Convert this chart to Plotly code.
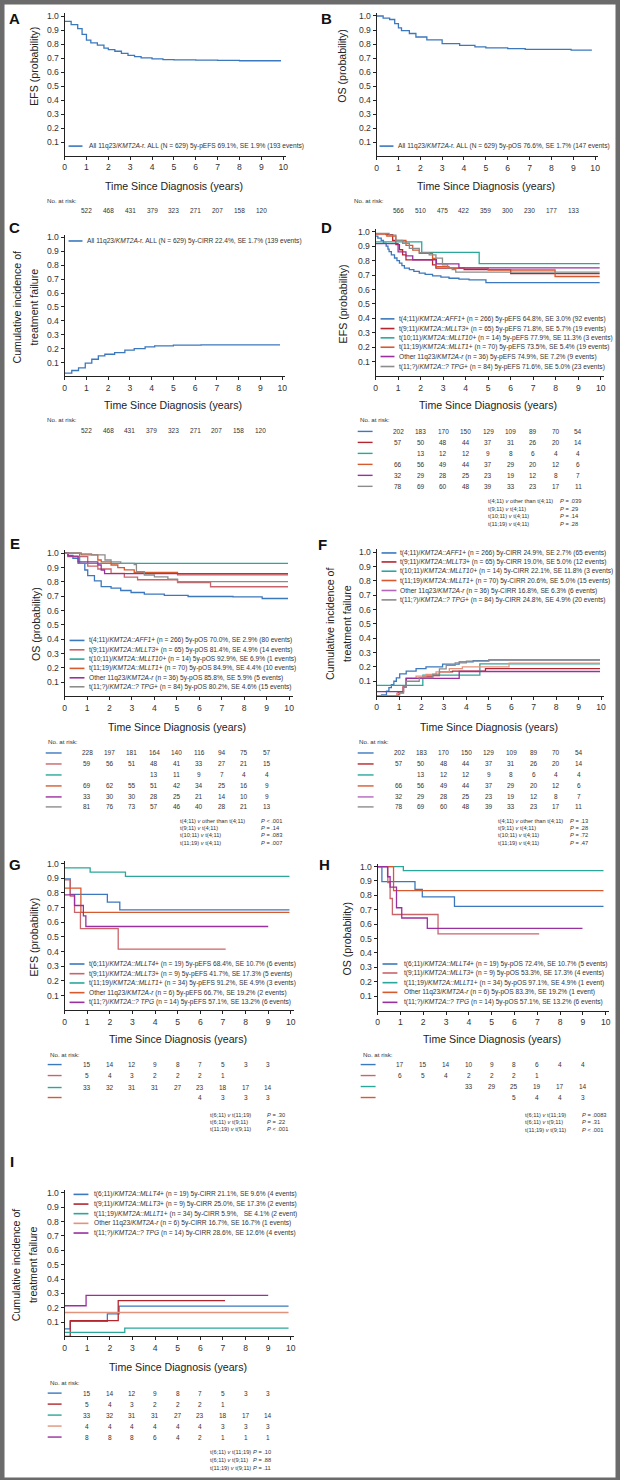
import plotly.graph_objects as go

W, H = 620, 1480
FONT = "Liberation Sans, Arial, sans-serif"

BLUE = "#3b78bd"
RED = "#b3262e"
ROSE = "#c9646a"
TEAL = "#2aa79b"
ORANGE = "#d65a2e"
SALMON = "#e3937c"
PURPLE = "#9a2f9f"
LILAC = "#b267b8"
GRAY = "#8c8c8c"

# --- data ---
years = [1, 2, 3, 4, 5, 6, 7, 8, 9]

# A: EFS, all patients
a_t = [0, 0.3, 0.6, 0.8, 1.0, 1.2, 1.5, 1.8, 2.0, 2.3, 2.6, 2.9, 3.2, 3.5, 4.0, 4.5, 5.0, 6.0, 7.0, 8.0, 9.9]
a_efs = [0.964, 0.94, 0.912, 0.87, 0.829, 0.81, 0.793, 0.772, 0.762, 0.75, 0.735, 0.72, 0.712, 0.702, 0.695,
         0.69, 0.688, 0.686, 0.684, 0.682, 0.682]
a_risk = [522, 468, 431, 379, 323, 271, 207, 158, 120]

# B: OS, all patients
b_t = [0, 0.3, 0.6, 0.83, 1.0, 1.14, 1.5, 1.8, 2.3, 3.0, 3.8, 4.5, 5.0, 6.0, 6.8, 8.9, 9.85]
b_os = [1.0, 0.985, 0.975, 0.945, 0.915, 0.895, 0.875, 0.85, 0.83, 0.803, 0.79, 0.78, 0.772, 0.767, 0.762,
        0.757, 0.757]
b_risk = [566, 510, 475, 422, 359, 300, 230, 177, 133]

# C: cumulative incidence, all patients
c_t = [0, 0.33, 0.64, 0.95, 1.25, 1.55, 1.85, 2.3, 2.77, 3.2, 3.7, 4.14, 5.0, 6.27, 9.9]
c_cir = [0.024, 0.043, 0.062, 0.096, 0.124, 0.148, 0.16, 0.172, 0.19, 0.2, 0.213, 0.22, 0.225, 0.227, 0.227]
c_risk = [522, 468, 431, 379, 323, 271, 207, 158, 120]

# D: EFS by partner gene
d_411_t = [0, 0.1, 0.25, 0.35, 0.47, 0.55, 0.6, 0.7, 0.84, 0.95, 1.06, 1.17, 1.28, 1.5, 1.7, 1.94, 2.2, 2.53,
           2.9, 3.26, 3.7, 4.15, 4.9, 9.95]
d_411 = [0.97, 0.955, 0.94, 0.92, 0.9, 0.88, 0.862, 0.84, 0.818, 0.8, 0.782, 0.765, 0.748, 0.737, 0.725, 0.713,
         0.705, 0.695, 0.686, 0.678, 0.672, 0.667, 0.648, 0.648]
d_911_t = [0, 0.47, 0.76, 0.9, 1.06, 1.2, 1.35, 2.53, 2.68, 3.93, 6.0, 9.95]
d_911 = [0.985, 0.98, 0.94, 0.91, 0.875, 0.84, 0.805, 0.77, 0.748, 0.737, 0.71, 0.71]
d_1011_t = [0, 2.05, 4.6, 9.95]
d_1011 = [0.929, 0.857, 0.779, 0.779]
d_1119_t = [0, 0.5, 0.9, 1.35, 1.65, 1.94, 2.53, 2.68, 3.26, 5.0, 7.97, 9.95]
d_1119 = [0.985, 0.97, 0.94, 0.906, 0.872, 0.85, 0.815, 0.758, 0.748, 0.735, 0.69, 0.69]
d_oth_t = [0, 1.0, 1.35, 1.65, 2.7, 3.7, 9.95]
d_oth = [0.917, 0.861, 0.833, 0.806, 0.778, 0.75, 0.75]
d_tpg_t = [0, 0.6, 0.9, 1.2, 1.5, 1.94, 2.38, 2.68, 2.97, 3.2, 3.4, 3.56, 9.95]
d_tpg = [0.988, 0.976, 0.94, 0.92, 0.885, 0.855, 0.84, 0.817, 0.77, 0.75, 0.737, 0.72, 0.72]

# E: OS by partner gene
e_411_t = [0, 0.15, 0.37, 0.6, 0.9, 1.03, 1.33, 1.63, 2.07, 2.5, 2.96, 3.55, 4.44, 5.5, 7.5, 8.8, 9.95]
e_411 = [1.0, 0.985, 0.965, 0.93, 0.883, 0.844, 0.807, 0.767, 0.756, 0.74, 0.726, 0.715, 0.706, 0.698, 0.696,
         0.684, 0.684]
e_911_t = [0, 0.15, 1.03, 1.48, 2.07, 2.66, 3.25, 5.03, 6.5, 9.95]
e_911 = [1.0, 0.977, 0.91, 0.89, 0.86, 0.833, 0.815, 0.795, 0.766, 0.766]
e_1011_t = [0, 0.67, 9.95]
e_1011 = [1.0, 0.929, 0.929]
e_1119_t = [0, 0.74, 1.48, 1.63, 2.07, 2.37, 2.66, 3.1, 5.03, 9.95]
e_1119 = [1.0, 0.988, 0.953, 0.94, 0.918, 0.9, 0.884, 0.867, 0.849, 0.849]
e_oth_t = [0, 0.15, 0.6, 1.48, 1.63, 1.78, 9.95]
e_oth = [1.0, 0.98, 0.94, 0.918, 0.883, 0.858, 0.858]
e_tpg_t = [0, 0.74, 1.2, 1.8, 2.07, 2.5, 3.1, 3.2, 3.55, 4.0, 4.6, 5.03, 9.95]
e_tpg = [1.0, 0.995, 0.988, 0.953, 0.94, 0.93, 0.92, 0.871, 0.848, 0.835, 0.82, 0.802, 0.802]

# F: cumulative incidence by partner gene
f_411_t = [0, 0.22, 0.44, 0.55, 0.66, 0.77, 0.88, 1.03, 1.32, 1.76, 2.2, 2.94, 3.68, 4.3, 5.0, 9.95]
f_411 = [0.0, 0.005, 0.03, 0.055, 0.077, 0.1, 0.123, 0.151, 0.17, 0.188, 0.2, 0.22, 0.235, 0.244, 0.249, 0.249]
f_911_t = [0, 0.96, 1.18, 1.32, 2.06, 2.5, 2.8, 3.38, 4.85, 9.95]
f_911 = [0.0, 0.025, 0.06, 0.12, 0.13, 0.14, 0.165, 0.17, 0.188, 0.188]
f_1011_t = [0, 2.06, 4.6, 9.95]
f_1011 = [0.071, 0.143, 0.221, 0.221]
f_1119_t = [0, 0.9, 1.2, 1.32, 1.76, 2.2, 2.65, 3.24, 3.82, 5.9, 9.95]
f_1119 = [0.0, 0.015, 0.06, 0.12, 0.135, 0.148, 0.165, 0.188, 0.2, 0.226, 0.226]
f_oth_t = [0, 1.2, 1.32, 3.68, 9.95]
f_oth = [0.028, 0.06, 0.12, 0.168, 0.168]
f_tpg_t = [0, 1.03, 1.2, 1.32, 1.9, 2.5, 2.8, 3.1, 3.5, 4.0, 5.0, 9.95]
f_tpg = [0.0, 0.02, 0.06, 0.1, 0.125, 0.15, 0.186, 0.21, 0.228, 0.24, 0.248, 0.248]

# number at risk, D and F share the EFS risk table
risk6_411 = [202, 183, 170, 150, 129, 109, 89, 70, 54]
risk6_911 = [57, 50, 48, 44, 37, 31, 26, 20, 14]
risk6_1011 = [None, 13, 12, 12, 9, 8, 6, 4, 4]
risk6_1119 = [66, 56, 49, 44, 37, 29, 20, 12, 6]
risk6_oth = [32, 29, 28, 25, 23, 19, 12, 8, 7]
risk6_tpg = [78, 69, 60, 48, 39, 33, 23, 17, 11]

os6_411 = [228, 197, 181, 164, 140, 116, 94, 75, 57]
os6_911 = [59, 56, 51, 48, 41, 33, 27, 21, 15]
os6_1011 = [None, None, None, 13, 11, 9, 7, 4, 4]
os6_1119 = [69, 62, 55, 51, 42, 34, 25, 16, 9]
os6_oth = [33, 30, 30, 28, 25, 21, 14, 10, 9]
os6_tpg = [81, 76, 73, 57, 46, 40, 28, 21, 13]

# G: EFS, infants
g_611_t = [0, 0.25, 1.89, 2.44, 9.94]
g_611 = [0.895, 0.79, 0.737, 0.684, 0.684]
g_911_t = [0, 0.25, 0.44, 0.7, 2.37, 7.12]
g_911 = [0.889, 0.778, 0.667, 0.556, 0.417, 0.417]
g_1119_t = [0, 1.13, 2.69, 9.94]
g_1119 = [0.971, 0.941, 0.912, 0.912]
g_oth_t = [0, 0.72, 9.94]
g_oth = [0.833, 0.667, 0.667]
g_tpg_t = [0, 0.44, 0.83, 0.94, 9.0]
g_tpg = [0.786, 0.714, 0.643, 0.571, 0.571]
g_risk_611 = [15, 14, 12, 9, 8, 7, 5, 3, 3]
g_risk_911 = [5, 4, 3, 2, 2, 2, 1, None, None]
g_risk_1119 = [33, 32, 31, 31, 27, 23, 18, 17, 14]
g_risk_oth = [None, None, None, None, None, 4, 3, 3, 3]

# H: OS, infants
h_611_t = [0, 0.19, 1.64, 1.96, 3.37, 9.9]
h_611 = [1.0, 0.895, 0.842, 0.789, 0.724, 0.724]
h_911_t = [0, 0.45, 0.55, 0.65, 2.65, 7.08]
h_911 = [1.0, 0.889, 0.778, 0.667, 0.533, 0.533]
h_1119_t = [0, 1.13, 9.9]
h_1119 = [1.0, 0.971, 0.971]
h_oth_t = [0, 0.7, 9.9]
h_oth = [1.0, 0.833, 0.833]
h_tpg_t = [0, 0.44, 0.55, 0.83, 1.06, 2.18, 8.98]
h_tpg = [1.0, 0.929, 0.857, 0.714, 0.643, 0.571, 0.571]
h_risk_611 = [17, 15, 14, 10, 9, 8, 6, 4, 4]
h_risk_911 = [6, 5, 4, 2, 2, 2, 1, None, None]
h_risk_1119 = [None, None, None, 33, 29, 25, 19, 17, 14]
h_risk_oth = [None, None, None, None, None, 5, 4, 4, 3]

# I: cumulative incidence, infants
i_611_t = [0, 0.25, 1.89, 2.41, 9.9]
i_611 = [0.053, 0.105, 0.158, 0.211, 0.211]
i_911_t = [0, 0.25, 2.37, 7.09]
i_911 = [0.0, 0.111, 0.25, 0.25]
i_1119_t = [0, 2.66, 9.9]
i_1119 = [0.029, 0.059, 0.059]
i_oth_t = [0, 9.9]
i_oth = [0.167, 0.167]
i_tpg_t = [0, 0.95, 9.0]
i_tpg = [0.214, 0.286, 0.286]
i_risk_611 = [15, 14, 12, 9, 8, 7, 5, 3, 3]
i_risk_911 = [5, 4, 3, 2, 2, 2, 1, None, None]
i_risk_1119 = [33, 32, 31, 31, 27, 23, 18, 17, 14]
i_risk_oth = [4, 4, 4, 4, 4, 4, 3, 3, 3]
i_risk_tpg = [8, 8, 8, 6, 4, 2, 1, 1, 1]

ALL = "All 11q23/<i>KMT2A</i>-r. ALL (N = 629) "
LAB6 = ["t(4;11)/<i>KMT2A::AFF1</i>+ (n = 266) ", "t(9;11)/<i>KMT2A::MLLT3</i>+ (n = 65) ",
        "t(10;11)/<i>KMT2A::MLLT10</i>+ (n = 14) ", "t(11;19)/<i>KMT2A::MLLT1</i>+ (n = 70) ",
        "Other 11q23/<i>KMT2A-r</i> (n = 36) ", "t(11;?)/<i>KMT2A::? TPG</i>+ (n = 84) "]
LAB5 = ["t(6;11)/<i>KMT2A::MLLT4</i>+ (n = 19) ", "t(9;11)/<i>KMT2A::MLLT3</i>+ (n = 9) ",
        "t(11;19)/<i>KMT2A::MLLT1</i>+ (n = 34) ", "Other 11q23/<i>KMT2A-r</i> (n = 6) ",
        "t(11;?)/<i>KMT2A::? TPG</i> (n = 14) "]
d_stats = ["5y-pEFS 64.8%, SE 3.0% (92 events)", "5y-pEFS 71.8%, SE 5.7% (19 events)",
           "5y-pEFS 77.9%, SE 11.3% (3 events)", "5y-pEFS 73.5%, SE 5.4% (19 events)",
           "5y-pEFS 74.9%, SE 7.2% (9 events)", "5y-pEFS 71.6%, SE 5.0% (23 events)"]
e_stats = ["5y-pOS 70.0%, SE 2.9% (80 events)", "5y-pOS 81.4%, SE 4.9% (14 events)",
           "5y-pOS 92.9%, SE 6.9% (1 events)", "5y-pOS 84.9%, SE 4.4% (10 events)",
           "5y-pOS 85.8%, SE 5.9% (5 events)", "5y-pOS 80.2%, SE 4.6% (15 events)"]
f_stats = ["5y-CIRR 24.9%, SE 2.7% (65 events)", "5y-CIRR 19.0%, SE 5.0% (12 events)",
           "5y-CIRR 22.1%, SE 11.8% (3 events)", "5y-CIRR 20.6%, SE 5.0% (15 events)",
           "5y-CIRR 16.8%, SE 6.3% (6 events)", "5y-CIRR 24.8%, SE 4.9% (20 events)"]
g_stats = ["5y-pEFS 68.4%, SE 10.7% (6 events)", "5y-pEFS 41.7%, SE 17.3% (5 events)",
           "5y-pEFS 91.2%, SE 4.9% (3 events)", "5y-pEFS 66.7%, SE 19.2% (2 events)",
           "5y-pEFS 57.1%, SE 13.2% (6 events)"]
h_stats = ["5y-pOS 72.4%, SE 10.7% (5 events)", "5y-pOS 53.3%, SE 17.3% (4 events)",
           "5y-pOS 97.1%, SE 4.9% (1 event)", "5y-pOS 83.3%, SE 19.2% (1 event)",
           "5y-pOS 57.1%, SE 13.2% (6 events)"]
i_stats = ["5y-CIRR 21.1%, SE 9.6% (4 events)", "5y-CIRR 25.0%, SE 17.3% (2 events)",
           "5y-CIRR 5.9%,   SE 4.1% (2 event)", "5y-CIRR 16.7%, SE 16.7% (1 events)",
           "5y-CIRR 28.6%, SE 12.6% (4 events)"]

CMP6 = ["t(4;11) <i>v</i> other than t(4;11)", "t(9;11) <i>v</i> t(4;11)", "t(10;11) <i>v</i> t(4;11)",
        "t(11;19) <i>v</i> t(4;11)"]
CMP3 = ["t(6;11) <i>v</i> t(11;19)", "t(6;11) <i>v</i> t(9;11)", "t(11;19) <i>v</i> t(9;11)"]
d_p = ["= .039", "= .29", "= .14", "= .28"]
e_p = ["< .001", "= .14", "= .083", "= .007"]
f_p = ["= .13", "= .28", "= .72", "= .47"]
g_p = ["= .30", "= .22", "< .001"]
h_p = ["= .0083", "= .31", "< .001"]
i_p = ["= .10", "= .88", "= .11"]

fig = go.Figure()
ann = []
shapes = []
AX = dict(showline=True, linecolor="#222", linewidth=1, ticks="outside", ticklen=3, tickwidth=1,
          tickcolor="#222", showgrid=False, zeroline=False, tickfont=dict(size=8.6, color="#333"))
TITLE = 10.6    # axis titles
LEG = 6.6       # legend rows
NUM = 6.5       # numbers at risk
PV = 5.7        # p-value lines


def txt(x, y, s, size=LEG, xa="left", color="#333", angle=0, xref="paper"):
    ann.append(dict(x=x if xref != "paper" else x / W, y=1 - y / H, xref=xref, yref="paper", text=s,
                    showarrow=False, xanchor=xa, yanchor="middle", textangle=angle,
                    font=dict(size=size, color=color, family=FONT)))


def seg(x0, x1, y, color, width=1.5):
    shapes.append(dict(type="line", xref="paper", yref="paper", x0=x0 / W, x1=x1 / W, y0=1 - y / H,
                       y1=1 - y / H, line=dict(color=color, width=width)))


def panel(n, box, curves, letter, lpos, ytitle, ypos, xt_y):
    key = "" if n == 1 else str(n)
    left, right, top, bottom = box
    fig.update_layout({
        "xaxis" + key: dict(domain=[left / W, (left + (right - left) * 1.015) / W], range=[0, 10.15],
                            anchor="y" + key, tickvals=list(range(11)), **AX),
        "yaxis" + key: dict(domain=[1 - bottom / H, 1 - (bottom - (bottom - top) * 1.02) / H], range=[0, 1.02],
                            anchor="x" + key, tickvals=[0.1 * k for k in range(1, 11)], tickformat=".1f", **AX)})
    for t, y, c in curves:
        fig.add_trace(go.Scatter(x=t, y=y, mode="lines", line=dict(color=c, width=1.3, shape="hv"),
                                 xaxis="x" + key, yaxis="y" + key, showlegend=False, hoverinfo="skip"))
    txt(lpos[0], lpos[1], "<b>" + letter + "</b>", size=15, xa="center", color="#111")
    # y title, one annotation per line so that the line gap can follow the original
    for line_txt, xx in zip(ytitle, ypos[0]):
        txt(xx, ypos[1], line_txt, size=TITLE, xa="center", color="#222", angle=-90)
    txt((left + right) / 2, xt_y, "Time Since Diagnosis (years)", size=TITLE, xa="center", color="#222")
    return "x" + key


def legend(rows_y, x0, x1, tx, labels, colors):
    for y, s, c in zip(rows_y, labels, colors):
        seg(x0, x1, y, c, 1.6)
        txt(tx, y, s, size=LEG)


def risk(xref, head, rows_y, x0, x1, tables, colors, line=True):
    txt(head[0], head[1], "No. at risk:", size=6.2)
    for y, vals, c in zip(rows_y, tables, colors):
        if line:
            seg(x0, x1, y, c, 1.4)
        for t, v in zip(years, vals):
            if v is not None:
                txt(t, y, str(v), size=NUM, xa="center", xref=xref)


def pvals(rows_y, xl, xp, left, right):
    for y, a, b in zip(rows_y, left, right):
        txt(xl, y, a, size=PV)
        txt(xp, y, "<i>P</i> " + b, size=PV)


EFS = ["EFS (probability)"]
OS = ["OS (probability)"]
CIR = ["Cumulative incidence of", "treatment failure"]

# A
xr = panel(1, (63, 283, 14.3, 154.3), [(a_t, a_efs, BLUE)], "A", (13, 17), EFS, ([32], 64), 184)
legend([144.3], 67, 81, 86, [ALL + "5y-pEFS 69.1%, SE 1.9% (193 events)"], [BLUE])
risk(xr, (43, 199), [209], 0, 0, [a_risk], [BLUE], line=False)

# B
xr = panel(2, (377, 597, 14, 154.5), [(b_t, b_os, BLUE)], "B", (327, 17), OS, ([342], 64), 184)
legend([144.3], 380, 394, 397, [ALL + "5y-pOS 76.6%, SE 1.7% (147 events)"], [BLUE])
risk(xr, (352, 199), [209], 0, 0, [b_risk], [BLUE], line=False)

# C
xr = panel(3, (63, 282, 235.7, 375), [(c_t, c_cir, BLUE)], "C", (13, 226), CIR, ([15, 32], 305), 404)
legend([239.3], 67, 81, 84, [ALL + "5y-CIRR 22.4%, SE 1.7% (139 events)"], [BLUE])
risk(xr, (43, 418), [429], 0, 0, [c_risk], [BLUE], line=False)

# D
col6 = [BLUE, RED, TEAL, ORANGE, PURPLE, GRAY]
xr = panel(4, (376, 602.7, 230, 374.8),
           [(d_411_t, d_411, BLUE), (d_911_t, d_911, RED), (d_1011_t, d_1011, TEAL), (d_1119_t, d_1119, ORANGE),
            (d_oth_t, d_oth, PURPLE), (d_tpg_t, d_tpg, GRAY)],
           "D", (327, 226), EFS, ([343], 302), 404)
legend([317.3, 327, 336.3, 345.7, 355, 365], 381, 395, 398, [a + b for a, b in zip(LAB6, d_stats)], col6)
risk(xr, (358, 418), [430, 441, 452, 463, 474, 485], 358, 373,
     [risk6_411, risk6_911, risk6_1011, risk6_1119, risk6_oth, risk6_tpg], col6)
pvals([500, 508, 515, 523], 487, 560, CMP6, d_p)

# E
col6e = [BLUE, ROSE, TEAL, ORANGE, PURPLE, GRAY]
xr = panel(5, (63, 289, 552, 695.4),
           [(e_411_t, e_411, BLUE), (e_911_t, e_911, ROSE), (e_1011_t, e_1011, TEAL), (e_1119_t, e_1119, ORANGE),
            (e_oth_t, e_oth, PURPLE), (e_tpg_t, e_tpg, GRAY)],
           "E", (13, 542), OS, ([34], 623), 726)
legend([639.3, 648.7, 658, 667.3, 676.7, 685.7], 68, 83, 86, [a + b for a, b in zip(LAB6, e_stats)], col6e)
risk(xr, (44, 740), [752, 763, 774, 785, 796, 806], 44, 60,
     [os6_411, os6_911, os6_1011, os6_1119, os6_oth, os6_tpg], col6e)
pvals([820, 827, 834, 842], 177, 259, CMP6, e_p)

# F
col6f = [BLUE, RED, TEAL, ORANGE, LILAC, GRAY]
xr = panel(6, (377, 603, 551, 694.5),
           [(f_411_t, f_411, BLUE), (f_911_t, f_911, RED), (f_1011_t, f_1011, TEAL), (f_1119_t, f_1119, SALMON),
            (f_oth_t, f_oth, PURPLE), (f_tpg_t, f_tpg, GRAY)],
           "F", (323, 543), CIR, ([330, 347], 622), 726)
legend([551.7, 560.7, 570, 579.3, 589.3, 598.7], 382, 397, 399, [a + b for a, b in zip(LAB6, f_stats)], col6f)
risk(xr, (357, 740), [752, 763, 774, 785, 796, 806], 358, 374,
     [risk6_411, risk6_911, risk6_1011, risk6_1119, risk6_oth, risk6_tpg], col6f)
pvals([820, 827, 834, 842], 497, 570, CMP6, f_p)

# G
col5 = [BLUE, ROSE, TEAL, ORANGE, PURPLE]
xr = panel(7, (63, 290.7, 862.7, 1009.7),
           [(g_611_t, g_611, BLUE), (g_911_t, g_911, ROSE), (g_1119_t, g_1119, TEAL), (g_oth_t, g_oth, ORANGE),
            (g_tpg_t, g_tpg, PURPLE)],
           "G", (13, 864), EFS, ([32], 936), 1038)
legend([963.3, 973, 982.3, 992, 1001.7], 68, 83, 86, [a + b for a, b in zip(LAB5, g_stats)], col5)
risk(xr, (46, 1054), [1064, 1075, 1087, 1097], 46, 60,
     [g_risk_611, g_risk_911, g_risk_1119, g_risk_oth], col5)
pvals([1115, 1122, 1129], 207, 265, CMP3, g_p)

# H
xr = panel(8, (378, 607.7, 865.7, 1010),
           [(h_611_t, h_611, BLUE), (h_911_t, h_911, ROSE), (h_1119_t, h_1119, TEAL), (h_oth_t, h_oth, ORANGE),
            (h_tpg_t, h_tpg, PURPLE)],
           "H", (325, 864), OS, ([347], 938), 1038)
legend([963.3, 972.3, 982, 991.7, 1001.7], 383, 398, 403, [a + b for a, b in zip(LAB5, h_stats)], col5)
risk(xr, (361, 1054), [1064, 1075, 1086, 1097], 361, 376,
     [h_risk_611, h_risk_911, h_risk_1119, h_risk_oth], col5)
pvals([1115, 1122, 1130], 524, 582, CMP3, h_p)

# I
col5i = [BLUE, RED, TEAL, SALMON, PURPLE]
xr = panel(9, (63, 290.7, 1192.5, 1336.3),
           [(i_611_t, i_611, BLUE), (i_911_t, i_911, RED), (i_1119_t, i_1119, TEAL), (i_oth_t, i_oth, SALMON),
            (i_tpg_t, i_tpg, PURPLE)],
           "I", (10, 1161), CIR, ([14, 31], 1264), 1367)
legend([1194, 1203.7, 1213.3, 1223, 1232.7], 72, 87, 91, [a + b for a, b in zip(LAB5, i_stats)], col5i)
risk(xr, (46, 1382), [1393, 1404, 1415, 1426, 1437], 46, 60,
     [i_risk_611, i_risk_911, i_risk_1119, i_risk_oth, i_risk_tpg], col5i)
pvals([1452, 1460, 1468], 207, 251, CMP3, i_p)

# outer frame
shapes.append(dict(type="rect", xref="paper", yref="paper", x0=0, x1=1, y0=0, y1=1,
                   line=dict(color="#6b6b6b", width=5)))

fig.update_layout(width=W, height=H, margin=dict(l=0, r=0, t=0, b=0), paper_bgcolor="white",
                  plot_bgcolor="white", font=dict(family=FONT, color="#333"), annotations=ann, shapes=shapes)
# the page's default body margin would push the figure 8px off the window
fig.write_html("out.html", config={"displayModeBar": False},
               post_script="document.body.style.margin='0';")
